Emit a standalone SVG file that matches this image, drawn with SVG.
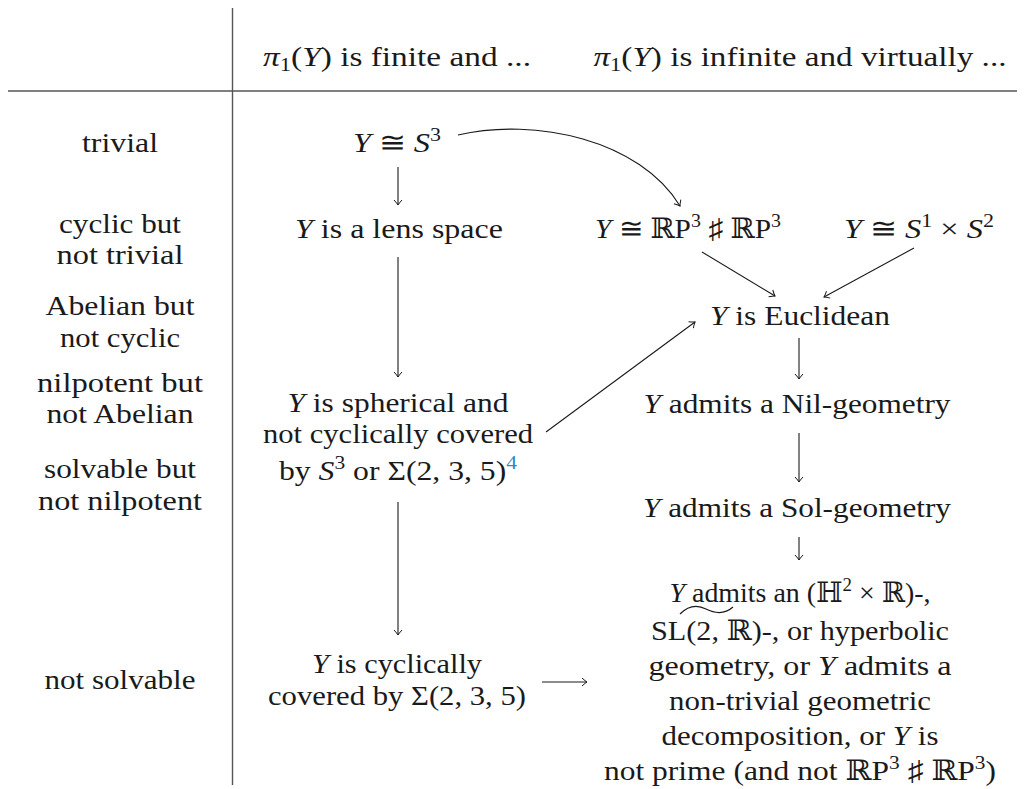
<svg xmlns="http://www.w3.org/2000/svg" width="1025" height="789" viewBox="0 0 1025 789">
<style>
text{font-family:"Liberation Serif","DejaVu Serif",serif;font-size:28px;fill:#1a1a1a;text-anchor:middle}
.m{font-style:italic}
.sup{font-size:19px}
.rule{stroke:#555;stroke-width:1.4;fill:none}
.arr{stroke:#1a1a1a;stroke-width:1.1;fill:none;marker-end:url(#ah)}
.blue{fill:#2f86c8}
</style>
<defs>
<marker id="ah" markerUnits="userSpaceOnUse" markerWidth="12" markerHeight="12" viewBox="-6 -6 12 12" refX="0" refY="0" orient="auto">
<path d="M-5,-4 Q-1.5,-0.8 0,0 Q-1.5,0.8 -5,4" stroke="#1a1a1a" stroke-width="1" fill="none"/>
</marker>
</defs>
<g id="table-rules">
<line class="rule" x1="232.5" y1="8" x2="232.5" y2="785"/>
<line class="rule" x1="8" y1="91" x2="1017" y2="91"/>
</g>
<g id="header">
<text x="397" y="66" textLength="268" lengthAdjust="spacingAndGlyphs"><tspan class="m">π</tspan><tspan class="sup" dy="5">1</tspan><tspan dy="-5">(</tspan><tspan class="m">Y</tspan>) is finite and ...</text>
<text x="800" y="66" textLength="413" lengthAdjust="spacingAndGlyphs"><tspan class="m">π</tspan><tspan class="sup" dy="5">1</tspan><tspan dy="-5">(</tspan><tspan class="m">Y</tspan>) is infinite and virtually ...</text>
</g>
<g id="row-labels">
<text x="120" y="152" textLength="76" lengthAdjust="spacingAndGlyphs">trivial</text>
<text x="120" y="233" textLength="122" lengthAdjust="spacingAndGlyphs">cyclic but</text>
<text x="120" y="264" textLength="127" lengthAdjust="spacingAndGlyphs">not trivial</text>
<text x="120" y="315" textLength="149" lengthAdjust="spacingAndGlyphs">Abelian but</text>
<text x="120" y="347" textLength="120" lengthAdjust="spacingAndGlyphs">not cyclic</text>
<text x="120" y="392" textLength="166" lengthAdjust="spacingAndGlyphs">nilpotent but</text>
<text x="120" y="423" textLength="147" lengthAdjust="spacingAndGlyphs">not Abelian</text>
<text x="120" y="478" textLength="152" lengthAdjust="spacingAndGlyphs">solvable but</text>
<text x="120" y="510" textLength="164" lengthAdjust="spacingAndGlyphs">not nilpotent</text>
<text x="120" y="689" textLength="151" lengthAdjust="spacingAndGlyphs">not solvable</text>
</g>
<g id="node-s3">
<text x="397" y="152" textLength="88" lengthAdjust="spacingAndGlyphs"><tspan class="m">Y</tspan> ≅ <tspan class="m">S</tspan><tspan class="sup" dy="-11">3</tspan></text>
</g>
<g id="node-lens">
<text x="399" y="238" textLength="208" lengthAdjust="spacingAndGlyphs"><tspan class="m">Y</tspan> is a lens space</text>
</g>
<g id="node-rp3">
<text x="688" y="238" textLength="186" lengthAdjust="spacingAndGlyphs"><tspan class="m">Y</tspan> ≅ ℝP<tspan class="sup" dy="-11">3</tspan><tspan dy="11"> ♯ ℝP</tspan><tspan class="sup" dy="-11">3</tspan></text>
</g>
<g id="node-s1s2">
<text x="919" y="238" textLength="150" lengthAdjust="spacingAndGlyphs"><tspan class="m">Y</tspan> ≅ <tspan class="m">S</tspan><tspan class="sup" dy="-11">1</tspan><tspan dy="11"> × </tspan><tspan class="m">S</tspan><tspan class="sup" dy="-11">2</tspan></text>
</g>
<g id="node-euclidean">
<text x="800" y="325" textLength="180" lengthAdjust="spacingAndGlyphs"><tspan class="m">Y</tspan> is Euclidean</text>
</g>
<g id="node-spherical">
<text x="398" y="412" textLength="221" lengthAdjust="spacingAndGlyphs"><tspan class="m">Y</tspan> is spherical and</text>
<text x="398" y="443" textLength="270" lengthAdjust="spacingAndGlyphs">not cyclically covered</text>
<text x="398" y="480" textLength="238" lengthAdjust="spacingAndGlyphs">by <tspan class="m">S</tspan><tspan class="sup" dy="-11">3</tspan><tspan dy="11"> or Σ(2, 3, 5)</tspan><tspan class="sup blue" dy="-11">4</tspan></text>
</g>
<g id="node-nil">
<text x="797" y="413" textLength="307" lengthAdjust="spacingAndGlyphs"><tspan class="m">Y</tspan> admits a Nil-geometry</text>
</g>
<g id="node-sol">
<text x="797" y="517" textLength="308" lengthAdjust="spacingAndGlyphs"><tspan class="m">Y</tspan> admits a Sol-geometry</text>
</g>
<g id="node-cyclic">
<text x="397" y="673" textLength="170" lengthAdjust="spacingAndGlyphs"><tspan class="m">Y</tspan> is cyclically</text>
<text x="397" y="705" textLength="258" lengthAdjust="spacingAndGlyphs">covered by Σ(2, 3, 5)</text>
</g>
<g id="node-other">
<text x="800" y="602" textLength="261" lengthAdjust="spacingAndGlyphs"><tspan class="m">Y</tspan> admits an (ℍ<tspan class="sup" dy="-11">2</tspan><tspan dy="11"> × ℝ)-,</tspan></text>
<path d="M680,614 C689,605 698,605 706,609 C714,613 724,615 733,607" stroke="#1a1a1a" stroke-width="1.2" fill="none"/>
<text x="800" y="640" textLength="298" lengthAdjust="spacingAndGlyphs">SL(2, ℝ)-, or hyperbolic</text>
<text x="800" y="675" textLength="303" lengthAdjust="spacingAndGlyphs">geometry, or <tspan class="m">Y</tspan> admits a</text>
<text x="800" y="710" textLength="262" lengthAdjust="spacingAndGlyphs">non-trivial geometric</text>
<text x="800" y="745" textLength="277" lengthAdjust="spacingAndGlyphs">decomposition, or <tspan class="m">Y</tspan> is</text>
<text x="800" y="780" textLength="392" lengthAdjust="spacingAndGlyphs">not prime (and not ℝP<tspan class="sup" dy="-11">3</tspan><tspan dy="11"> ♯ ℝP</tspan><tspan class="sup" dy="-11">3</tspan><tspan dy="11">)</tspan></text>
</g>
<g id="connectors">
<path class="arr" d="M458,135 C535,117 640,140 680,206"/>
<line class="arr" x1="398" y1="167" x2="398" y2="205"/>
<line class="arr" x1="398" y1="257" x2="398" y2="377"/>
<line class="arr" x1="398" y1="502" x2="398" y2="635"/>
<line class="arr" x1="702" y1="252" x2="775" y2="296"/>
<line class="arr" x1="914" y1="248" x2="824" y2="297"/>
<line class="arr" x1="546" y1="432" x2="695" y2="322"/>
<line class="arr" x1="799" y1="338" x2="799" y2="379"/>
<line class="arr" x1="799" y1="433" x2="799" y2="482"/>
<line class="arr" x1="799" y1="537" x2="799" y2="560"/>
<line class="arr" x1="542" y1="682" x2="587" y2="682"/>
</g>
</svg>
